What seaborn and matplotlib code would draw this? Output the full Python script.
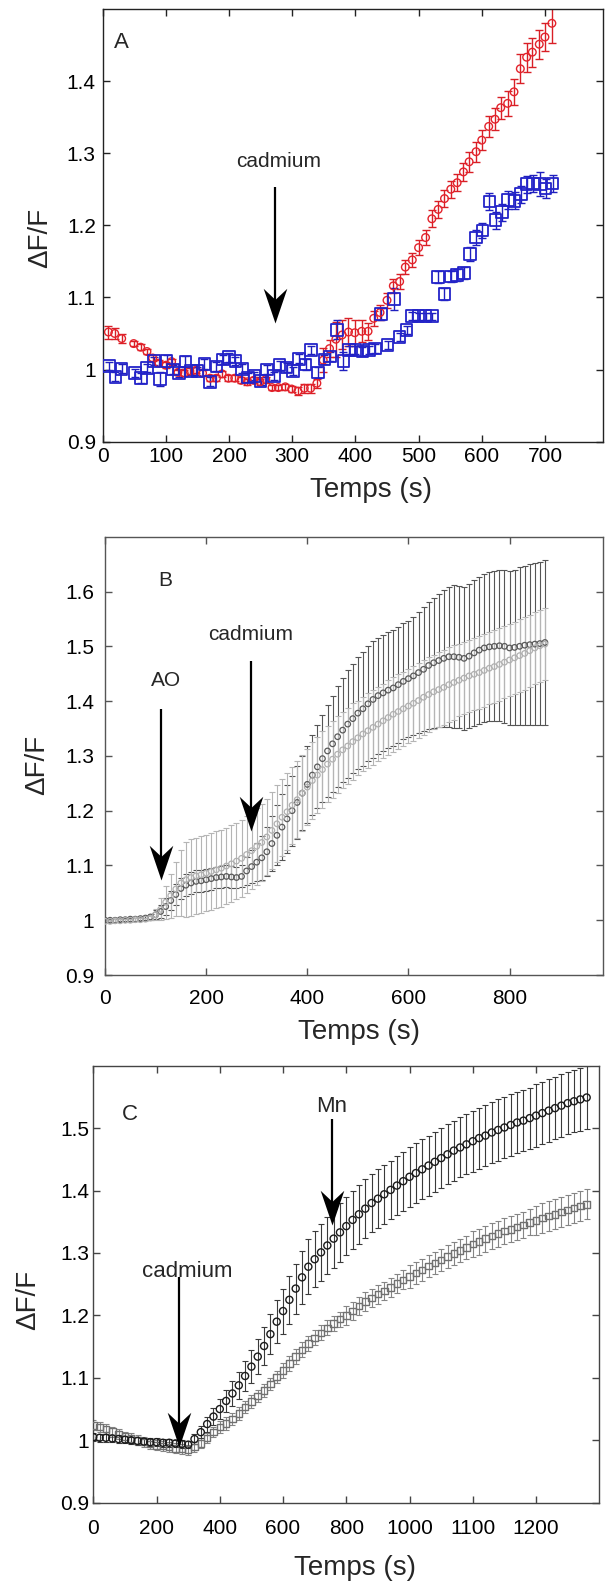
import matplotlib
matplotlib.use("Agg")
import matplotlib.pyplot as plt
from matplotlib.path import Path
import pandas as pd
import seaborn as sns

# ---------------- Panel A ----------------
A_RED_T = [9, 19, 30, 49, 60, 70, 79, 89, 100, 109, 119, 129, 138, 148, 158, 170, 180, 189, 199, 209,
           219, 229, 239, 249, 258, 268, 278, 289, 299, 309, 319, 329, 339, 349, 359, 369, 379, 389, 399, 410,
           420, 429, 439, 450, 460, 470, 479, 490, 500, 511, 521, 531, 541, 551, 561, 571, 580, 591, 600, 611,
           621, 630, 641, 651, 661, 671, 680, 691, 700, 711]
A_RED_Y = [1.052, 1.050, 1.043, 1.036, 1.031, 1.025, 1.016, 1.009, 1.006, 1.011,
           0.996, 0.995, 0.998, 0.999, 0.995, 0.988, 0.988, 0.994, 0.988, 0.988,
           0.985, 0.983, 0.985, 0.983, 0.986, 0.975, 0.975, 0.976, 0.973, 0.970,
           0.974, 0.974, 0.981, 1.013, 1.029, 1.042, 1.048, 1.052, 1.051, 1.053,
           1.053, 1.071, 1.079, 1.096, 1.116, 1.122, 1.142, 1.152, 1.169, 1.183,
           1.209, 1.222, 1.237, 1.250, 1.259, 1.274, 1.288, 1.302, 1.318, 1.337,
           1.347, 1.363, 1.369, 1.385, 1.417, 1.433, 1.440, 1.451, 1.461, 1.480]
A_RED_ERR = [0.009, 0.007, 0.006, 0.004, 0.004, 0.004, 0.004, 0.004, 0.004, 0.004,
             0.004, 0.004, 0.004, 0.004, 0.004, 0.004, 0.004, 0.004, 0.004, 0.004,
             0.004, 0.004, 0.004, 0.004, 0.004, 0.004, 0.004, 0.004, 0.004, 0.006,
             0.006, 0.006, 0.006, 0.017, 0.012, 0.024, 0.020, 0.020, 0.018, 0.015,
             0.012, 0.010, 0.010, 0.010, 0.010, 0.010, 0.010, 0.010, 0.010, 0.010,
             0.012, 0.012, 0.012, 0.012, 0.012, 0.012, 0.014, 0.014, 0.014, 0.014,
             0.015, 0.015, 0.017, 0.018, 0.020, 0.020, 0.020, 0.020, 0.020, 0.027]

A_BLUE_T = [10, 20, 30, 51, 61, 70, 81, 91, 101, 111, 121, 131, 140, 150, 161, 170, 180, 190, 200, 210,
            220, 230, 240, 250, 260, 271, 280, 291, 301, 311, 321, 330, 341, 351, 360, 371, 381, 390, 400, 411,
            421, 431, 440, 451, 461, 470, 481, 490, 500, 511, 521, 531, 541, 551, 561, 572, 581, 591, 601, 612,
            622, 632, 642, 652, 662, 671, 681, 692, 701, 712]
A_BLUE_Y = [1.005, 0.990, 1.001, 0.995, 0.988, 1.002, 1.012, 0.987, 1.012, 1.000,
            0.995, 1.011, 0.998, 0.998, 1.008, 0.983, 1.004, 1.014, 1.017, 1.012,
            1.001, 0.989, 0.991, 0.984, 1.000, 0.991, 1.006, 1.003, 0.998, 1.015,
            1.007, 1.027, 0.996, 1.014, 1.018, 1.055, 1.012, 1.027, 1.027, 1.025,
            1.027, 1.029, 1.077, 1.034, 1.098, 1.045, 1.055, 1.074, 1.074, 1.074,
            1.074, 1.128, 1.105, 1.129, 1.131, 1.134, 1.160, 1.183, 1.193, 1.233,
            1.207, 1.218, 1.235, 1.234, 1.243, 1.257, 1.258, 1.257, 1.251, 1.258]
A_BLUE_ERR = [0.005, 0.006, 0.006, 0.006, 0.007, 0.005, 0.006, 0.010, 0.008, 0.006,
              0.006, 0.008, 0.006, 0.006, 0.007, 0.006, 0.006, 0.006, 0.006, 0.006,
              0.006, 0.006, 0.006, 0.006, 0.006, 0.006, 0.006, 0.006, 0.006, 0.006,
              0.008, 0.006, 0.008, 0.006, 0.006, 0.013, 0.012, 0.006, 0.006, 0.006,
              0.006, 0.006, 0.008, 0.006, 0.015, 0.006, 0.006, 0.006, 0.005, 0.005,
              0.005, 0.008, 0.008, 0.008, 0.008, 0.008, 0.010, 0.010, 0.010, 0.012,
              0.012, 0.012, 0.012, 0.012, 0.012, 0.012, 0.012, 0.017, 0.013, 0.012]

# ---------------- Panel B ----------------
B_T = [0, 10, 20, 30, 40, 50, 60, 70, 80, 90, 100, 110, 120, 130, 140, 150, 160, 170, 180, 190,
       200, 210, 220, 230, 240, 250, 260, 270, 280, 290, 300, 310, 320, 330, 340, 350, 360, 370, 380, 390,
       400, 410, 420, 430, 440, 450, 460, 470, 480, 490, 500, 510, 520, 530, 540, 550, 560, 570, 580, 590,
       600, 610, 620, 630, 640, 650, 660, 670, 680, 690, 700, 710, 720, 730, 740, 750, 760, 770, 780, 790,
       800, 810, 820, 830, 840, 850, 860, 870]
B_DARK_Y = [1.000, 1.000, 1.000, 1.001, 1.001, 1.002, 1.002, 1.003, 1.004, 1.006,
            1.010, 1.016, 1.025, 1.036, 1.047, 1.058, 1.064, 1.068, 1.071, 1.072,
            1.074, 1.076, 1.078, 1.079, 1.080, 1.079, 1.078, 1.080, 1.090, 1.098,
            1.106, 1.114, 1.125, 1.140, 1.155, 1.170, 1.185, 1.200, 1.215, 1.232,
            1.248, 1.265, 1.280, 1.295, 1.309, 1.322, 1.335, 1.347, 1.358, 1.368,
            1.378, 1.386, 1.395, 1.403, 1.410, 1.415, 1.420, 1.424, 1.430, 1.436,
            1.441, 1.446, 1.452, 1.458, 1.465, 1.470, 1.474, 1.478, 1.481, 1.481,
            1.480, 1.478, 1.482, 1.488, 1.493, 1.497, 1.499, 1.500, 1.501, 1.500,
            1.497, 1.498, 1.500, 1.502, 1.503, 1.504, 1.505, 1.507]
B_DARK_ERR = [0.003, 0.003, 0.003, 0.003, 0.003, 0.003, 0.003, 0.003, 0.004, 0.005,
              0.008, 0.012, 0.016, 0.018, 0.020, 0.020, 0.020, 0.020, 0.020, 0.020,
              0.020, 0.020, 0.020, 0.020, 0.020, 0.020, 0.020, 0.020, 0.025, 0.030,
              0.035, 0.040, 0.045, 0.050, 0.055, 0.060, 0.062, 0.064, 0.066, 0.068,
              0.070, 0.073, 0.076, 0.080, 0.084, 0.088, 0.092, 0.095, 0.098, 0.100,
              0.102, 0.104, 0.105, 0.106, 0.106, 0.106, 0.106, 0.106, 0.106, 0.106,
              0.106, 0.108, 0.110, 0.113, 0.116, 0.119, 0.122, 0.125, 0.128, 0.130,
              0.130, 0.131, 0.132, 0.133, 0.134, 0.135, 0.136, 0.137, 0.138, 0.140,
              0.140, 0.142, 0.144, 0.145, 0.147, 0.148, 0.149, 0.150]
B_LIGHT_Y = [0.998, 0.998, 0.999, 0.999, 1.000, 1.000, 1.001, 1.001, 1.002, 1.004,
             1.010, 1.020, 1.033, 1.045, 1.057, 1.068, 1.074, 1.078, 1.081, 1.083,
             1.086, 1.089, 1.092, 1.095, 1.099, 1.103, 1.108, 1.113, 1.120, 1.127,
             1.135, 1.142, 1.152, 1.164, 1.176, 1.188, 1.198, 1.210, 1.220, 1.232,
             1.243, 1.255, 1.265, 1.275, 1.285, 1.294, 1.303, 1.311, 1.318, 1.326,
             1.333, 1.340, 1.346, 1.352, 1.358, 1.364, 1.370, 1.376, 1.381, 1.386,
             1.391, 1.396, 1.401, 1.407, 1.412, 1.417, 1.421, 1.425, 1.430, 1.434,
             1.438, 1.442, 1.446, 1.449, 1.452, 1.456, 1.460, 1.463, 1.467, 1.471,
             1.475, 1.479, 1.483, 1.487, 1.492, 1.497, 1.501, 1.504]
B_LIGHT_ERR = [0.003, 0.003, 0.003, 0.003, 0.003, 0.003, 0.003, 0.003, 0.003, 0.003,
               0.010, 0.020, 0.030, 0.040, 0.050, 0.060, 0.068, 0.070, 0.070, 0.070,
               0.070, 0.070, 0.070, 0.070, 0.070, 0.070, 0.070, 0.070, 0.070, 0.070,
               0.070, 0.070, 0.070, 0.070, 0.070, 0.070, 0.070, 0.070, 0.070, 0.070,
               0.070, 0.070, 0.070, 0.070, 0.070, 0.070, 0.070, 0.070, 0.070, 0.070,
               0.068, 0.068, 0.068, 0.068, 0.068, 0.068, 0.068, 0.068, 0.068, 0.068,
               0.068, 0.068, 0.068, 0.068, 0.068, 0.068, 0.068, 0.068, 0.068, 0.068,
               0.066, 0.066, 0.066, 0.066, 0.066, 0.066, 0.066, 0.066, 0.066, 0.066,
               0.066, 0.066, 0.066, 0.066, 0.066, 0.066, 0.066, 0.066]

# ---------------- Panel C ----------------
C_T = [0, 20, 40, 60, 80, 100, 120, 140, 160, 180, 200, 220, 240, 260, 280, 300, 320, 340, 360, 380,
       400, 420, 440, 460, 480, 500, 520, 540, 560, 580, 600, 620, 640, 660, 680, 700, 720, 740, 760, 780,
       800, 820, 840, 860, 880, 900, 920, 940, 960, 980, 1000, 1020, 1040, 1060, 1080, 1100, 1120, 1140,
       1160, 1180, 1200, 1220, 1240, 1260, 1280, 1300, 1320, 1340, 1360, 1380, 1400, 1420, 1440, 1460,
       1480, 1500, 1520, 1540, 1560]
C_BLACK_Y = [1.005, 1.004, 1.004, 1.003, 1.002, 1.001, 1.000, 0.999, 0.998, 0.997,
             0.997, 0.996, 0.996, 0.995, 0.994, 0.993, 1.002, 1.013, 1.026, 1.038,
             1.050, 1.063, 1.075, 1.088, 1.103, 1.118, 1.134, 1.151, 1.170, 1.190,
             1.207, 1.225, 1.243, 1.261, 1.278, 1.290, 1.301, 1.312, 1.323, 1.333,
             1.343, 1.353, 1.362, 1.371, 1.380, 1.387, 1.394, 1.401, 1.408, 1.415,
             1.422, 1.428, 1.434, 1.440, 1.446, 1.452, 1.458, 1.464, 1.469, 1.474,
             1.479, 1.484, 1.488, 1.493, 1.497, 1.501, 1.505, 1.509, 1.512, 1.516,
             1.520, 1.524, 1.528, 1.532, 1.536, 1.540, 1.543, 1.546, 1.549]
C_BLACK_ERR = [0.006, 0.006, 0.006, 0.006, 0.006, 0.006, 0.006, 0.006, 0.006, 0.006,
               0.006, 0.006, 0.006, 0.006, 0.006, 0.006, 0.008, 0.010, 0.012, 0.014,
               0.016, 0.018, 0.020, 0.022, 0.024, 0.026, 0.028, 0.030, 0.032, 0.034,
               0.036, 0.038, 0.040, 0.042, 0.044, 0.045, 0.046, 0.046, 0.047, 0.047,
               0.047, 0.047, 0.047, 0.047, 0.047, 0.047, 0.047, 0.047, 0.047, 0.047,
               0.048, 0.048, 0.048, 0.048, 0.048, 0.048, 0.048, 0.048, 0.048, 0.048,
               0.049, 0.049, 0.049, 0.049, 0.049, 0.049, 0.049, 0.049, 0.049, 0.049,
               0.050, 0.050, 0.050, 0.050, 0.050, 0.050, 0.050, 0.050, 0.050]
C_GREY_Y = [1.024, 1.021, 1.018, 1.014, 1.010, 1.006, 1.003, 1.000, 0.997, 0.994,
            0.992, 0.991, 0.989, 0.987, 0.986, 0.985, 0.989, 0.995, 1.004, 1.013,
            1.021, 1.027, 1.034, 1.043, 1.053, 1.062, 1.071, 1.080, 1.090, 1.101,
            1.112, 1.123, 1.134, 1.145, 1.155, 1.164, 1.172, 1.180, 1.187, 1.194,
            1.200, 1.207, 1.215, 1.222, 1.228, 1.234, 1.239, 1.245, 1.251, 1.257,
            1.262, 1.268, 1.273, 1.279, 1.284, 1.289, 1.294, 1.299, 1.304, 1.309,
            1.314, 1.318, 1.323, 1.327, 1.331, 1.335, 1.338, 1.342, 1.345, 1.349,
            1.352, 1.356, 1.359, 1.362, 1.366, 1.369, 1.372, 1.375, 1.378]
C_GREY_ERR = [0.008, 0.008, 0.008, 0.008, 0.008, 0.008, 0.008, 0.008, 0.008, 0.008,
              0.008, 0.008, 0.008, 0.008, 0.008, 0.008, 0.008, 0.008, 0.008, 0.008,
              0.010, 0.010, 0.010, 0.010, 0.010, 0.010, 0.010, 0.010, 0.010, 0.010,
              0.012, 0.012, 0.012, 0.012, 0.012, 0.012, 0.012, 0.012, 0.012, 0.012,
              0.015, 0.015, 0.015, 0.015, 0.015, 0.015, 0.015, 0.015, 0.015, 0.015,
              0.018, 0.018, 0.018, 0.018, 0.018, 0.018, 0.018, 0.018, 0.018, 0.018,
              0.021, 0.021, 0.021, 0.021, 0.021, 0.021, 0.021, 0.021, 0.021, 0.021,
              0.024, 0.024, 0.024, 0.024, 0.024, 0.024, 0.024, 0.024, 0.024]
C_XTICKS = [0, 200, 400, 600, 800, 1000, 1200, 1400]
C_XTICKLABELS = ["0", "200", "400", "600", "800", "1000", "1100", "1200"]

sns.set_theme(style="ticks")
plt.rcParams["font.family"] = ["Liberation Sans", "DejaVu Sans"]

# notched arrow head, tip at the origin, pointing down
ARROW_HEAD = Path([(0, 0), (-0.34, 1.0), (0, 0.68), (0.34, 1.0), (0, 0)],
                  [Path.MOVETO, Path.LINETO, Path.LINETO, Path.LINETO, Path.CLOSEPOLY])
HEAD_MS = 50  # head length = HEAD_MS / 2 points


def draw_series(ax, t, y, err, color, ecolor, marker, size, capsize, elw=0.9, mlw=1.0):
    ax.errorbar(t, y, yerr=err, fmt="none", ecolor=ecolor, elinewidth=elw,
                capsize=capsize, capthick=elw, zorder=2)
    df = pd.DataFrame({"t": t, "y": y})
    sns.scatterplot(data=df, x="t", y="y", ax=ax, marker=marker, s=size, color=color,
                    facecolor="none", edgecolor=color, linewidth=mlw, zorder=3, legend=False)


def draw_arrow(ax, x, y_tail, y_tip):
    # shaft stops at the notch of the head
    fig_dpi = ax.figure.dpi
    tip = ax.transData.transform((x, y_tip))
    notch_px = 0.6 * (HEAD_MS / 2) * fig_dpi / 72
    y_notch = ax.transData.inverted().transform((tip[0], tip[1] + notch_px))[1]
    ax.plot([x, x], [y_tail, y_notch], color="black", lw=1.6,
            solid_capstyle="butt", zorder=5)
    ax.plot([x], [y_tip], marker=ARROW_HEAD, markersize=HEAD_MS, color="black",
            mew=0, linestyle="none", zorder=6)


def style_axes(ax, xlim, ylim, yticks, ylabels, xpad, ypad, spine_color,
               xlab_pos, ylab_pos):
    ax.set_xlim(*xlim)
    ax.set_ylim(*ylim)
    ax.set_yticks(yticks)
    ax.set_yticklabels(ylabels)
    for s in ax.spines.values():
        s.set_visible(True)
        s.set_color(spine_color)
        s.set_linewidth(1.0)
    ax.tick_params(axis="both", direction="in", top=True, right=True, length=5,
                   width=1.0, color=spine_color, labelsize=15, labelcolor="black")
    ax.tick_params(axis="x", pad=xpad)
    ax.tick_params(axis="y", pad=ypad)
    ax.set_xlabel("Temps (s)", fontsize=20)
    ax.set_ylabel("ΔF/F", fontsize=20)
    ax.xaxis.set_label_coords(*xlab_pos)
    ax.yaxis.set_label_coords(*ylab_pos)
    ax.xaxis.label.set_va("center")
    ax.yaxis.label.set_va("center")
    ax.grid(False)


fig = plt.figure(figsize=(6.05, 15.87), dpi=100)

# Panel A
axA = fig.add_axes([0.1698, 0.7217, 0.8270, 0.2727])
draw_series(axA, A_RED_T, A_RED_Y, A_RED_ERR, "#e3222b", "#d91f26", "o", 30, 3.0, elw=1.0, mlw=1.0)
draw_series(axA, A_BLUE_T, A_BLUE_Y, A_BLUE_ERR, "#2323c8", "#1f1fbf", "s", 70, 3.0, elw=1.0, mlw=1.3)
style_axes(axA, (0, 792), (0.9, 1.5), [0.9, 1.0, 1.1, 1.2, 1.3, 1.4],
           ["0.9", "1", "1.1", "1.2", "1.3", "1.4"], 4, 5, "#222222",
           (0.537, -0.112), (-0.125, 0.471))
axA.set_xticks([0, 100, 200, 300, 400, 500, 600, 700])
axA.text(29, 1.454, "A", fontsize=16, ha="center", va="center")
axA.text(278, 1.288, "cadmium", fontsize=15, ha="center", va="center")
draw_arrow(axA, 272, 1.253, 1.064)

# Panel B
axB = fig.add_axes([0.1736, 0.3856, 0.8232, 0.2762])
draw_series(axB, B_T, B_DARK_Y, B_DARK_ERR, "#5a5a5a", "#555555", "o", 16, 2.0, elw=0.8, mlw=0.9)
draw_series(axB, B_T, B_LIGHT_Y, B_LIGHT_ERR, "#b0b0b0", "#b5b5b5", "o", 16, 2.0, elw=0.8, mlw=0.9)
style_axes(axB, (0, 985), (0.9, 1.7), [0.9, 1.0, 1.1, 1.2, 1.3, 1.4, 1.5, 1.6],
           ["0.9", "1", "1.1", "1.2", "1.3", "1.4", "1.5", "1.6"], 10, 8, "#555555",
           (0.509, -0.13), (-0.136, 0.48))
axB.set_xticks([0, 200, 400, 600, 800])
axB.text(120, 1.62, "B", fontsize=15, ha="center", va="center")
axB.text(120, 1.438, "AO", fontsize=15, ha="center", va="center")
axB.text(288, 1.521, "cadmium", fontsize=15, ha="center", va="center")
draw_arrow(axB, 111, 1.385, 1.074)
draw_arrow(axB, 289, 1.473, 1.162)

# Panel C
axC = fig.add_axes([0.1542, 0.0531, 0.8364, 0.2754])
draw_series(axC, C_T, C_GREY_Y, C_GREY_ERR, "#707070", "#858585", "s", 22, 2.5, elw=0.8, mlw=1.0)
draw_series(axC, C_T, C_BLACK_Y, C_BLACK_ERR, "#1a1a1a", "#3a3a3a", "o", 26, 2.5, elw=0.8, mlw=1.0)
style_axes(axC, (0, 1600), (0.9, 1.6), [0.9, 1.0, 1.1, 1.2, 1.3, 1.4, 1.5],
           ["0.9", "1", "1.1", "1.2", "1.3", "1.4", "1.5"], 12, 3, "#444444",
           (0.517, -0.149), (-0.129, 0.464))
axC.set_xticks(C_XTICKS)
axC.set_xticklabels(C_XTICKLABELS)
axC.text(117, 1.521, "C", fontsize=16, ha="center", va="center")
axC.text(298, 1.27, "cadmium", fontsize=16, ha="center", va="center")
axC.text(754, 1.535, "Mn", fontsize=16, ha="center", va="center")
draw_arrow(axC, 270, 1.262, 0.99)
draw_arrow(axC, 754, 1.515, 1.345)

fig.savefig("out.png", dpi=100)
